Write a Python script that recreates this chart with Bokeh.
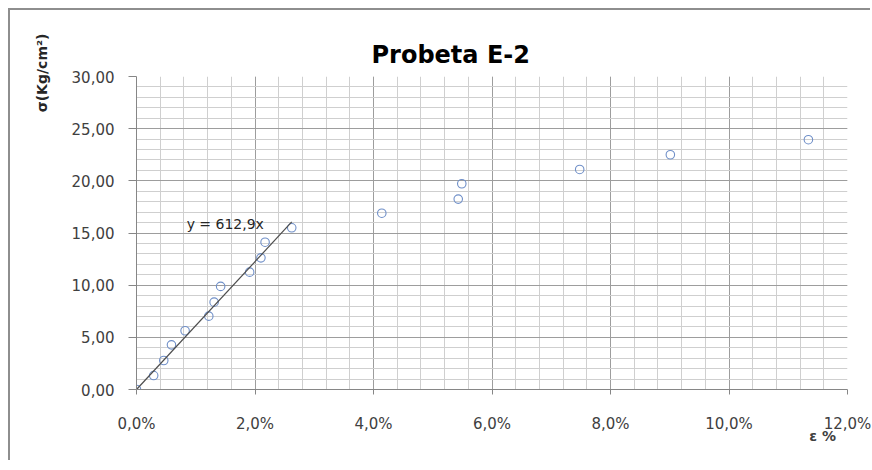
from bokeh.plotting import figure
from bokeh.layouts import column
from bokeh.models import FixedTicker, Label, Title, LinearAxis
from bokeh.embed import file_html
from bokeh.resources import INLINE

# ---- data ----
strain_pct = [0.00, 0.29, 0.46, 0.59, 0.82, 1.22, 1.31, 1.42, 1.91, 2.10, 2.17, 2.62,
              4.14, 5.43, 5.49, 7.48, 9.01, 11.34]
stress = [0.00, 1.34, 2.78, 4.28, 5.63, 7.03, 8.37, 9.88, 11.25, 12.62, 14.12, 15.50,
          16.90, 18.25, 19.72, 21.09, 22.50, 23.94]

trend_slope = 612.9          # y = 612,9x  (x as a fraction)
trend_x_pct = [0.0, 2.62]    # extent of the linear-region trendline
trend_label = "y = 612,9x"

x_ticks = [0, 2, 4, 6, 8, 10, 12]
x_tick_labels = ["0,0%", "2,0%", "4,0%", "6,0%", "8,0%", "10,0%", "12,0%"]
x_minor = [i * 0.4 for i in range(31)]
y_ticks = [0, 5, 10, 15, 20, 25, 30]
y_tick_labels = ["0,00", "5,00", "10,00", "15,00", "20,00", "25,00", "30,00"]
y_minor = list(range(31))

title_text = "Probeta E-2"
y_label_text = "σ(Kg/cm²)"
x_label_text = "ε %"
x_label_pos = 11.58

FONT = "DejaVu Sans"

p = figure(width=862, height=452, x_range=(0, 12), y_range=(0, 30),
           output_backend="svg", toolbar_location=None,
           min_border_left=126, min_border_right=25,
           min_border_top=66, min_border_bottom=73)
p.outline_line_color = None
p.background_fill_color = "white"
p.border_fill_color = "white"

# axes
p.xaxis.ticker = FixedTicker(ticks=x_ticks, minor_ticks=x_minor)
p.yaxis.ticker = FixedTicker(ticks=y_ticks, minor_ticks=y_minor)
p.xaxis.major_label_overrides = {t: l for t, l in zip(x_ticks, x_tick_labels)}
p.yaxis.major_label_overrides = {t: l for t, l in zip(y_ticks, y_tick_labels)}
for ax in (p.xaxis, p.yaxis):
    ax.axis_line_color = "#868686"
    ax.major_tick_line_color = "#868686"
    ax.minor_tick_line_color = None
    ax.major_tick_in = 0
    ax.major_label_text_font = FONT
    ax.major_label_text_font_size = "15px"
    ax.major_label_text_color = "#404040"
p.xaxis.major_tick_out = 5
p.xaxis.major_label_standoff = 20
p.yaxis.major_tick_out = 8
p.yaxis.major_label_standoff = 14

# grids
for g in (p.xgrid, p.ygrid):
    g.grid_line_color = "#9d9d9d"
    g.grid_line_width = 1
    g.minor_grid_line_color = "#cfcfcf"
    g.minor_grid_line_width = 1

# data
p.scatter(strain_pct, stress, marker="circle", size=8.5, fill_color=None,
          line_color="#6f8fc8", line_width=1.1)

trend_y = [trend_slope * x / 100.0 for x in trend_x_pct]
p.line(trend_x_pct, trend_y, line_color="#4d4d4d", line_width=1.2)

p.add_layout(Label(x=0.846, y=15.9, text=trend_label, text_font=FONT,
                   text_font_size="14px", text_color="#262626",
                   text_align="left", text_baseline="middle"))

# chart title
p.add_layout(Title(text=title_text, align="left", offset=235, standoff=16,
                   vertical_align="bottom", text_font=FONT,
                   text_font_style="bold", text_font_size="24px",
                   text_color="#000000"), "above")

# y axis title (near the top of the axis)
p.add_layout(Title(text=y_label_text, align="right", offset=-43, standoff=38,
                   vertical_align="bottom", text_font=FONT,
                   text_font_style="bold", text_font_size="14px",
                   text_color="#262626"), "left")

# x axis title at the right end, drawn as a lone tick label of an extra axis
xlab_axis = LinearAxis(ticker=FixedTicker(ticks=[x_label_pos]),
                       major_label_overrides={x_label_pos: x_label_text},
                       axis_line_color=None, major_tick_line_color=None,
                       minor_tick_line_color=None,
                       major_tick_out=0, major_tick_in=0,
                       major_label_standoff=-8,
                       major_label_text_font=FONT,
                       major_label_text_font_style="bold",
                       major_label_text_font_size="14px",
                       major_label_text_color="#404040")
p.add_layout(xlab_axis, "below")

# chart-area frame: only its top and left edges are inside the window
page = column(p, styles={"margin-left": "10px", "margin-top": "10px",
                         "box-shadow": "-2px -2px 0 0 #8e8e8e"})

open("out.html", "w").write(file_html(page, INLINE))
